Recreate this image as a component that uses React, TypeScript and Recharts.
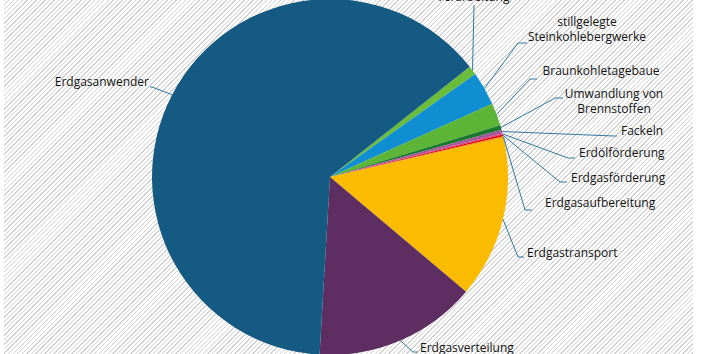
import { PieChart, Pie, Cell } from "recharts";

// Methane emission sources, share in percent
const sources = [
  "Verarbeitung",
  "stillgelegte Steinkohlebergwerke",
  "Braunkohletagebaue",
  "Umwandlung von Brennstoffen",
  "Fackeln",
  "Erdölförderung",
  "Erdgasförderung",
  "Erdgasaufbereitung",
  "Erdgastransport",
  "Erdgasverteilung",
  "Erdgasanwender",
];
const shares = [0.83, 3.06, 2.06, 0.42, 0.33, 0.12, 0.14, 0.15, 14.7, 14.8, 63.5];

const sliceColors = [
  "#6abd3b",
  "#0f8fd2",
  "#5db537",
  "#17782e",
  "#a5589c",
  "#e0407c",
  "#e3001b",
  "#f39200",
  "#fbbb00",
  "#5e2d61",
  "#155a83",
];

const W = 707;
const H = 354;
const CX = 330;
const CY = 177;
const R = 178;

// label placement relative to the pie centre (leader elbow, leader end, text)
type LabelSpot = {
  elbow: [number, number];
  end: [number, number];
  tx: number;
  ty: number;
  anchor: "start" | "middle" | "end";
  lines: string[];
};

const labelSpots: LabelSpot[] = [
  { elbow: [144, -172], end: [144, -172], tx: 143, ty: -176, anchor: "middle", lines: ["Verarbeitung"] },
  { elbow: [188, -134], end: [197, -134], tx: 257, ty: -151, anchor: "middle", lines: ["stillgelegte", "Steinkohlebergwerke"] },
  { elbow: [200, -98], end: [207, -98], tx: 271, ty: -102, anchor: "middle", lines: ["Braunkohletagebaue"] },
  { elbow: [225, -79], end: [233, -79], tx: 284, ty: -79, anchor: "middle", lines: ["Umwandlung von", "Brennstoffen"] },
  { elbow: [284, -41], end: [287, -41], tx: 291, ty: -42, anchor: "start", lines: ["Fackeln"] },
  { elbow: [238, -19], end: [245, -19], tx: 249, ty: -20, anchor: "start", lines: ["Erdölförderung"] },
  { elbow: [230, 5], end: [237, 5], tx: 241, ty: 5, anchor: "start", lines: ["Erdgasförderung"] },
  { elbow: [195, 33], end: [202, 33], tx: 215, ty: 30, anchor: "start", lines: ["Erdgasaufbereitung"] },
  { elbow: [188, 80], end: [194, 80], tx: 197, ty: 80, anchor: "start", lines: ["Erdgastransport"] },
  { elbow: [83, 175], end: [88, 175], tx: 90, ty: 175, anchor: "start", lines: ["Erdgasverteilung"] },
  { elbow: [-178, -90], end: [-180, -90], tx: -181, ty: -91, anchor: "end", lines: ["Erdgasanwender"] },
];

const data = sources.map((name, i) => ({ name, value: shares[i] }));

const RADIAN = Math.PI / 180;

const renderLabel = (props: any) => {
  const { midAngle, outerRadius, index } = props;
  const cx = typeof props.cx === "number" ? props.cx : CX;
  const cy = typeof props.cy === "number" ? props.cy : CY;
  const spot = labelSpots[index];
  if (!spot) return null;
  const sx = cx + outerRadius * Math.cos(-midAngle * RADIAN);
  const sy = cy + outerRadius * Math.sin(-midAngle * RADIAN);
  const pts = [
    [sx, sy],
    [cx + spot.elbow[0], cy + spot.elbow[1]],
    [cx + spot.end[0], cy + spot.end[1]],
  ]
    .map(p => p.join(","))
    .join(" ");
  const x = cx + spot.tx;
  return (
    <g key={`lbl-${index}`}>
      <polyline points={pts} fill="none" stroke="#33789f" strokeWidth={1} />
      <text
        x={x}
        y={cy + spot.ty}
        textAnchor={spot.anchor}
        fill="#141414"
        fontSize={12}
        fontFamily="'Open Sans', sans-serif"
      >
        {spot.lines.map((ln, j) => (
          <tspan key={j} x={x} dy={j === 0 ? 0 : 15}>
            {ln}
          </tspan>
        ))}
      </text>
    </g>
  );
};

export default function App() {
  return (
    <div style={{ position: "fixed", left: 0, top: 0, width: W, height: H, background: "#fff", overflow: "hidden" }}>
      <div
        style={{
          position: "absolute",
          left: 4,
          top: 0,
          width: 689,
          height: H,
          background:
            "repeating-linear-gradient(135deg, #d2d2d2 0px, #d2d2d2 1px, #ffffff 1px, #ffffff 3.2px)",
        }}
      />
      <div style={{ position: "absolute", left: 0, top: 0 }}>
        <PieChart width={W} height={H} margin={{ top: 0, right: 0, bottom: 0, left: 0 }}>
          <Pie
            data={data}
            dataKey="value"
            nameKey="name"
            cx={CX}
            cy={CY}
            outerRadius={R}
            startAngle={38.3}
            endAngle={38.3 - 360}
            stroke="none"
            label={renderLabel}
            labelLine={false}
            isAnimationActive={false}
          >
            {data.map((d, i) => (
              <Cell key={d.name} fill={sliceColors[i]} />
            ))}
          </Pie>
        </PieChart>
      </div>
    </div>
  );
}
